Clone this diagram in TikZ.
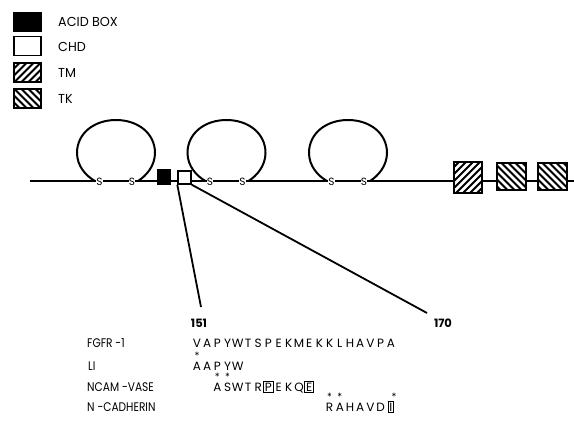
\documentclass[tikz,border=0pt]{standalone}
\usepackage{fontspec}
\setmainfont{Poppins}
\begin{document}
\begin{tikzpicture}[x=1pt,y=-1pt,
  bb/.style={line width=2pt},
  legbox/.style={draw, line width=1.3pt, minimum width=27pt, minimum height=19pt, inner sep=0pt},
  legtxt/.style={anchor=west, inner sep=0pt, font=\fontsize{13}{14}\selectfont},
  sulf/.style={fill=white, inner sep=0.2pt, font=\fontsize{10.5}{11}\selectfont},
  seq/.style={inner sep=0pt, text height=8.5pt, text depth=0pt, font=\fontsize{12}{13}\selectfont},
  boxed/.style={seq, draw, line width=0.9pt, inner sep=1.3pt},
  starmk/.style={inner sep=0pt, font=\fontsize{10}{10}\selectfont},
  rowlbl/.style={anchor=west, inner sep=0pt, font=\fontsize{12.5}{13}\selectfont},
  num/.style={inner sep=0pt, font=\fontsize{11.5}{12}\selectfont\bfseries},
  hatchup/.style={fill=black, draw=black, line width=1.2pt, inner sep=0pt,
    path picture={\foreach \k in {-5,...,5}
      \draw[white, line width=2.6pt] ([xshift=\k*7pt-25pt, yshift=-25pt]path picture bounding box.center) -- ++(50pt,50pt);}},
  hatchdown/.style={fill=black, draw=black, line width=1.2pt, inner sep=0pt,
    path picture={\foreach \k in {-5,...,5}
      \draw[white, line width=2.6pt] ([xshift=\k*7pt-25pt, yshift=25pt]path picture bounding box.center) -- ++(50pt,-50pt);}}
]
\useasboundingbox (0,0) rectangle (574,425);

% legend
\node[legbox, fill=black] (lacid) at (27.5,22) {};
\node[legbox, fill=white] (lchd) at (27.5,46) {};
\node[legbox, hatchup] (ltm) at (27.5,72.5) {};
\node[legbox, hatchdown] (ltk) at (27.5,98.5) {};
\node[legtxt] (tacid) at (58,22) {\scalebox{0.98}[1]{ACID BOX}};
\node[legtxt] (tchd) at (58,47) {\scalebox{0.98}[1]{CHD}};
\node[legtxt] (ttm) at (58,73) {\scalebox{0.98}[1]{TM}};
\node[legtxt] (ttk) at (58,99) {\scalebox{0.98}[1]{TK}};

% immunoglobulin-like loops
\foreach \c in {116,226.5,348}
  \draw[bb] ({\c-21},181) .. controls ({\c-30},176) and ({\c-39},166) .. ({\c-39},153)
    .. controls ({\c-39},133) and ({\c-21.5},120) .. (\c,120)
    .. controls ({\c+21.5},120) and ({\c+39},133) .. ({\c+39},153)
    .. controls ({\c+39},166) and ({\c+30},176) .. ({\c+22},181);

% backbone
\coordinate (nterm) at (30,181);
\coordinate (cterm) at (574,181);
\draw[bb] (nterm) -- (cterm);

% disulfide cysteines
\foreach \c [count=\j] in {116,226.5,348} {
  \node[sulf] (sa\j) at ({\c-16.5},182) {S};
  \node[sulf] (sb\j) at ({\c+16},182) {S};
}

% domains on the backbone
\node[draw, fill=black, line width=1pt, minimum width=13pt, minimum height=15pt, inner sep=0pt] (acid) at (163.5,177.5) {};
\node[draw, fill=white, line width=1.4pt, minimum width=13pt, minimum height=13pt, inner sep=0pt] (chd) at (184.5,177.5) {};
\node[hatchup, minimum width=28pt, minimum height=31pt] (tm) at (468,177.5) {};
\node[hatchdown, minimum width=29pt, minimum height=27pt] (tka) at (511.5,176.5) {};
\node[hatchdown, minimum width=29pt, minimum height=27pt] (tkb) at (552.5,176.5) {};

% expansion of the CHD region
\coordinate (e151) at (201,307);
\coordinate (e170) at (427,313);
\draw[line width=1.8pt] (chd.south west) -- (e151);
\draw[line width=1.8pt] (chd.south east) -- (e170);
\node[num] (n151) at (199,323) {151};
\node[num] (n170) at (443,323) {170};

% sequence rows
\node[rowlbl] (lf) at (87,343) {\scalebox{0.85}[1]{FGFR -1}};
\node[rowlbl] (ll) at (88,366) {\scalebox{0.85}[1]{LI}};
\node[rowlbl] (ln) at (87,387) {\scalebox{0.85}[1]{NCAM -VASE}};
\node[rowlbl] (lc) at (87,407) {\scalebox{0.85}[1]{N -CADHERIN}};

\foreach \ch [count=\i] in {V,A,P,Y,W,T,S,P,E,K,M,E,K,K,L,H,A,V,P,A}
  \node[seq] (f\i) at ({197+(\i-1)*10.2},343) {\ch};

\foreach \ch [count=\i] in {A,A,P,Y,W}
  \node[seq] (l\i) at ({197+(\i-1)*10.2},366) {\ch};

\foreach \ch/\st [count=\i from 3] in {A/seq,S/seq,W/seq,T/seq,R/seq,P/boxed,E/seq,K/seq,Q/seq,E/boxed}
  \node[\st] (m\i) at ({197+(\i-1)*10.2},387) {\ch};

\foreach \ch/\st [count=\i from 14] in {R/seq,A/seq,H/seq,A/seq,V/seq,D/seq,I/boxed}
  \node[\st] (c\i) at ({197+(\i-1)*10.2},407) {\ch};

% conserved residues
\node[starmk] (sl1) at ([yshift=5.5pt]l1.north) {*};
\node[starmk] (sm3) at ([yshift=5.5pt]m3.north) {*};
\node[starmk] (sm4) at ([yshift=5.5pt]m4.north) {*};
\node[starmk] (sc14) at ([yshift=5.5pt]c14.north) {*};
\node[starmk] (sc15) at ([yshift=5.5pt]c15.north) {*};
\node[starmk] (sc20) at ([yshift=4pt]c20.north east) {*};
\end{tikzpicture}
\end{document}
